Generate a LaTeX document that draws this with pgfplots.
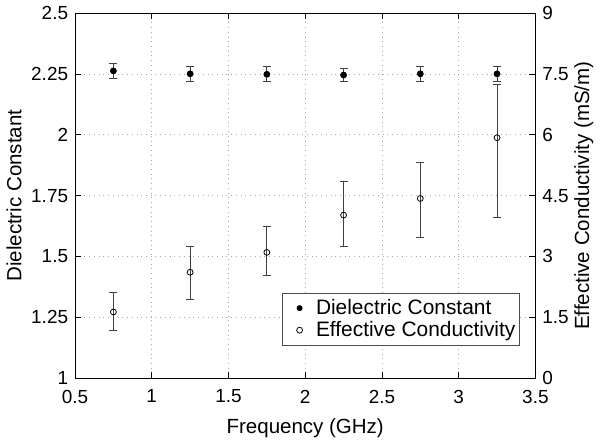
\documentclass[border=0pt]{standalone}
\usepackage{pgfplots}
\pgfplotsset{compat=1.18}
\usepackage{pgfplotstable}
\usepackage{fontspec}
\setmainfont{Liberation Sans}
\pgfplotstableread{
x    y      ep     em
0.75 2.263  0.031  0.031
1.25 2.251  0.031  0.031
1.75 2.249  0.031  0.031
2.25 2.246  0.027  0.027
2.75 2.251  0.031  0.031
3.25 2.251  0.032  0.032
}\dielectric
\pgfplotstableread{
x    y      ep     em
0.75 1.63   0.48   0.45
1.25 2.61   0.63   0.68
1.75 3.10   0.65   0.58
2.25 4.02   0.83   0.78
2.75 4.43   0.88   0.97
3.25 5.93   1.31   1.96
}\conductivity
\begin{document}
\begin{tikzpicture}
\pgfplotsset{
  every axis/.append style={
    width=233.5pt, height=185pt, scale only axis,
    xmin=0.5, xmax=3.5,
    font=\fontsize{9.6}{11}\selectfont,
    label style={font=\fontsize{10.4}{12}\selectfont},
    /pgf/number format/assume math mode=true,
    tick align=inside,
    major tick length=3pt,
    tick style={black, line width=0.4pt},
    axis line style={line width=0.5pt},
  },
}
\begin{axis}[
  ymin=1, ymax=2.5,
  ytick={1,1.25,1.5,1.75,2,2.25,2.5},
  yticklabels={1,1.25,1.5,1.75,2,2.25,2.5},
  xtick={0.5,1,1.5,2,2.5,3,3.5},
  xticklabels={0.5,1,1.5,2,2.5,3,3.5},
  ytick pos=left,
  grid=major,
  grid style={dotted, gray!70, line width=0.4pt},
  xlabel={Frequency (GHz)},
  ylabel={Dielectric Constant},
  xlabel style={yshift=-1pt},
  ylabel style={yshift=-2pt},
  xticklabel style={yshift=-2.5pt},
]
\addplot[only marks, mark=*, mark size=1.5pt, black,
  error bars/.cd, y dir=both, y explicit,
  error bar style={draw=black!75, line width=0.4pt},
  error mark options={rotate=90, mark size=2pt, draw=black!75, line width=0.4pt}]
  table[x=x, y=y, y error plus=ep, y error minus=em] {\dielectric};
\end{axis}
\begin{axis}[
  ymin=0, ymax=9,
  axis y line*=right,
  axis x line=none,
  ytick={0,1.5,3,4.5,6,7.5,9},
  yticklabels={0,1.5,3,4.5,6,7.5,9},
  ylabel={Effective Conductivity (mS/m)},
  ylabel style={yshift=4pt},
  legend style={at={(0.966,0.089)}, anchor=south east, draw=black!70,
    font=\fontsize{10.6}{12}\selectfont, row sep=0pt, inner xsep=1pt, inner ysep=2pt,
    nodes={inner xsep=1pt, inner ysep=1pt}},
  legend cell align=left,
  legend image code/.code={
    \draw[#1, only marks] plot coordinates {(0.27cm,0cm)};
    \path (0cm,0cm) (0.52cm,0cm);
  },
]
\addlegendimage{only marks, mark=*, mark size=1.3pt, black}
\addlegendentry{Dielectric Constant}
\addplot[only marks, mark=o, mark size=1.5pt, black, mark options={line width=0.4pt},
  error bars/.cd, y dir=both, y explicit,
  error bar style={draw=black!75, line width=0.4pt},
  error mark options={rotate=90, mark size=2pt, draw=black!75, line width=0.4pt}]
  table[x=x, y=y, y error plus=ep, y error minus=em] {\conductivity};
\addlegendentry{Effective Conductivity}
\end{axis}
\end{tikzpicture}
\end{document}
